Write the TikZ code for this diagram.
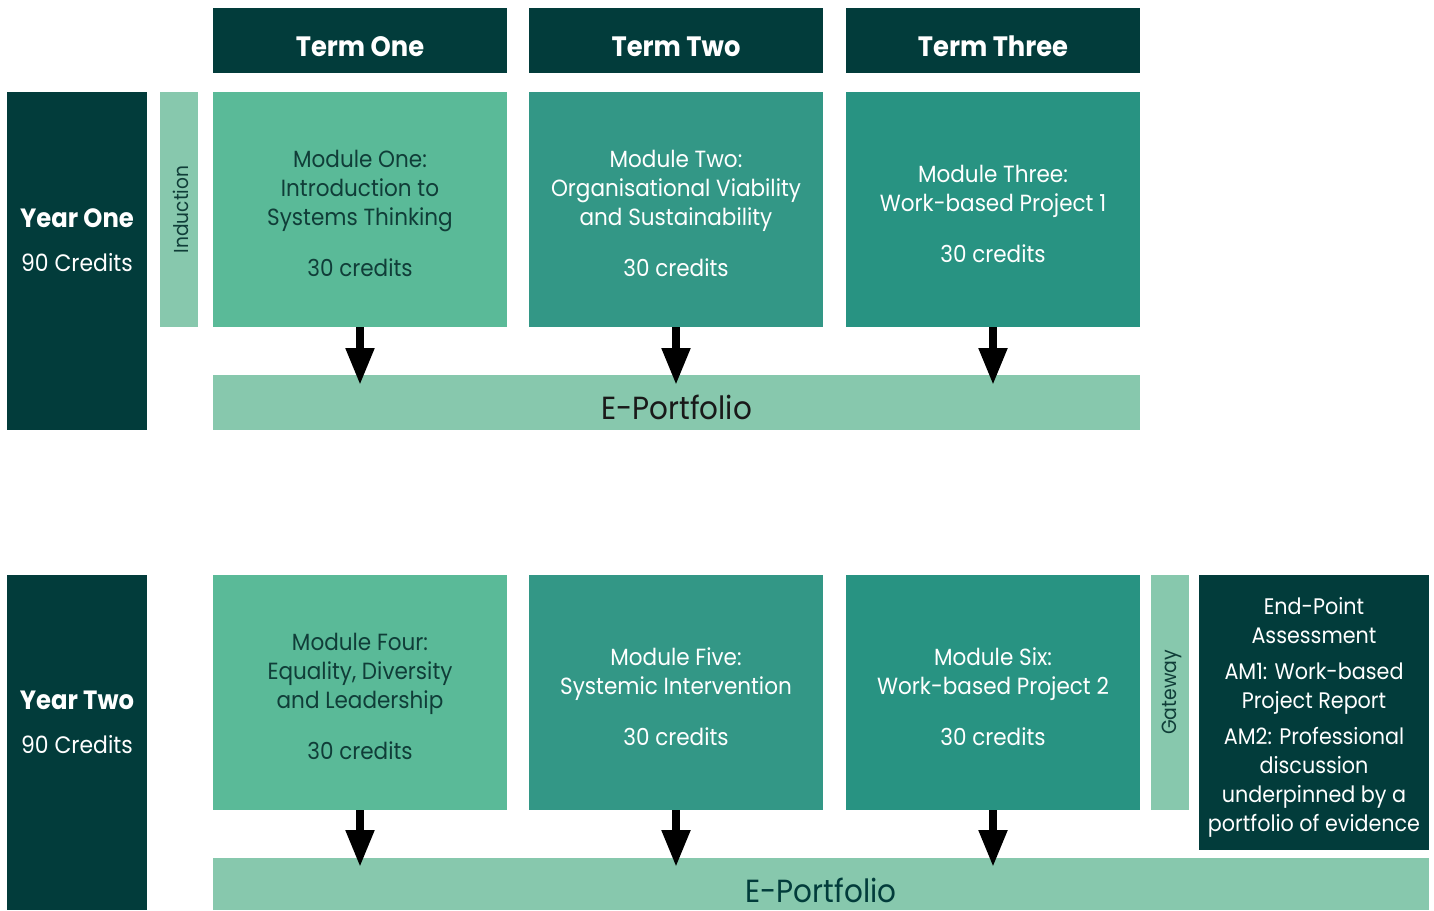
\documentclass[tikz,border=0pt]{standalone}
\usepackage{fontspec}
\setmainfont{Poppins}[FakeStretch=0.92]
\usetikzlibrary{arrows.meta}
\definecolor{dk}{HTML}{023C3B}
\definecolor{mA}{HTML}{5ABA98}
\definecolor{mB}{HTML}{339786}
\definecolor{mC}{HTML}{289382}
\definecolor{lt}{HTML}{87C8AD}
\definecolor{txA}{HTML}{103D38}
\begin{document}
\begin{tikzpicture}[x=1pt,y=-1pt,
  box/.style={anchor=north west,inner sep=0pt,outer sep=0pt},
  lbl/.style={inner sep=0pt,align=center},
  modtext/.style={lbl,font=\fontsize{23.4}{29}\selectfont},
  modbox/.style={box,minimum width=294pt,minimum height=235pt},
  termbox/.style={box,fill=dk,minimum width=294pt,minimum height=65pt},
  termtext/.style={lbl,text=white,font=\bfseries\fontsize{28}{30}\selectfont},
  arr/.style={line width=8pt,-{Triangle[width=27pt,length=37pt]},black}]
\useasboundingbox (0,0) rectangle (1434,910);
% term headers
\node[termbox] (t1) at (213,8) {};
\node[termbox] (t2) at (529,8) {};
\node[termbox] (t3) at (846,8) {};
\node[termtext] (t1t) at ([yshift=-6pt]t1.center) {Term One};
\node[termtext] (t2t) at ([yshift=-6pt]t2.center) {Term Two};
\node[termtext] (t3t) at ([yshift=-6pt]t3.center) {Term Three};
% year one
\node[box,fill=dk,minimum width=140pt,minimum height=338pt] (y1) at (7,92) {};
\node[lbl,text=white,font=\bfseries\fontsize{26.4}{30}\selectfont] (y1a) at (77,218) {Year One};
\node[lbl,text=white,font=\fontsize{23.8}{30}\selectfont] (y1b) at (77,263) {90 Credits};
% induction
\node[box,fill=lt,minimum width=38pt,minimum height=235pt] (ind) at (160,92) {};
\node[lbl,rotate=90,text=txA,font=\fontsize{20.2}{24}\selectfont] (indt) at (181,209.5) {Induction};
% modules year one
\node[modbox,fill=mA] (m1) at (213,92) {};
\node[modbox,fill=mB] (m2) at (529,92) {};
\node[modbox,fill=mC] (m3) at (846,92) {};
\node[modtext,text=txA] (m1t) at ([yshift=-4pt]m1.center) {Module One:\\Introduction to\\Systems Thinking\\[22pt]30 credits};
\node[modtext,text=white] (m2t) at ([yshift=-4pt]m2.center) {Module Two:\\Organisational Viability\\and Sustainability\\[22pt]30 credits};
\node[modtext,text=white] (m3t) at ([yshift=-4pt]m3.center) {Module Three:\\Work-based Project 1\\[22pt]30 credits};
% e-portfolio 1
\node[box,fill=lt,minimum width=927pt,minimum height=55pt] (ep1) at (213,375) {};
\node[lbl,text=black!90,font=\fontsize{32}{34}\selectfont] (ep1t) at ([yshift=-5pt]ep1.center) {E-Portfolio};
\draw[arr] (m1.south) -- ([yshift=-10pt]m1.south |- ep1.north);
\draw[arr] (m2.south) -- ([yshift=-10pt]m2.south |- ep1.north);
\draw[arr] (m3.south) -- ([yshift=-10pt]m3.south |- ep1.north);
% year two
\node[box,fill=dk,minimum width=140pt,minimum height=335pt] (y2) at (7,575) {};
\node[lbl,text=white,font=\bfseries\fontsize{26.4}{30}\selectfont] (y2a) at (77,700) {Year Two};
\node[lbl,text=white,font=\fontsize{23.8}{30}\selectfont] (y2b) at (77,745) {90 Credits};
% modules year two
\node[modbox,fill=mA] (m4) at (213,575) {};
\node[modbox,fill=mB] (m5) at (529,575) {};
\node[modbox,fill=mC] (m6) at (846,575) {};
\node[modtext,text=txA] (m4t) at ([yshift=-4pt]m4.center) {Module Four:\\Equality, Diversity\\and Leadership\\[22pt]30 credits};
\node[modtext,text=white] (m5t) at ([yshift=-4pt]m5.center) {Module Five:\\Systemic Intervention\\[22pt]30 credits};
\node[modtext,text=white] (m6t) at ([yshift=-4pt]m6.center) {Module Six:\\Work-based Project 2\\[22pt]30 credits};
% gateway
\node[box,fill=lt,minimum width=38pt,minimum height=235pt] (gw) at (1151,575) {};
\node[lbl,rotate=90,text=txA,font=\fontsize{20.5}{24}\selectfont] (gwt) at (1172,692.5) {Gateway};
% EPA
\node[box,fill=dk,minimum width=230pt,minimum height=275pt] (epa) at (1199,575) {};
\node[lbl,text=white,font=\fontsize{22.5}{29}\selectfont] (epat) at ([yshift=-5pt]epa.center)
  {End-Point\\Assessment\\[7pt]AM1: Work-based\\Project Report\\[7pt]AM2: Professional\\discussion\\underpinned by a\\portfolio of evidence};
% e-portfolio 2
\node[box,fill=lt,minimum width=1216pt,minimum height=52pt] (ep2) at (213,858) {};
\node[lbl,text=dk,font=\fontsize{32}{34}\selectfont] (ep2t) at ([yshift=-6pt]ep2.center) {E-Portfolio};
\draw[arr] (m4.south) -- ([yshift=-9pt]m4.south |- ep2.north);
\draw[arr] (m5.south) -- ([yshift=-9pt]m5.south |- ep2.north);
\draw[arr] (m6.south) -- ([yshift=-9pt]m6.south |- ep2.north);
\end{tikzpicture}
\end{document}
